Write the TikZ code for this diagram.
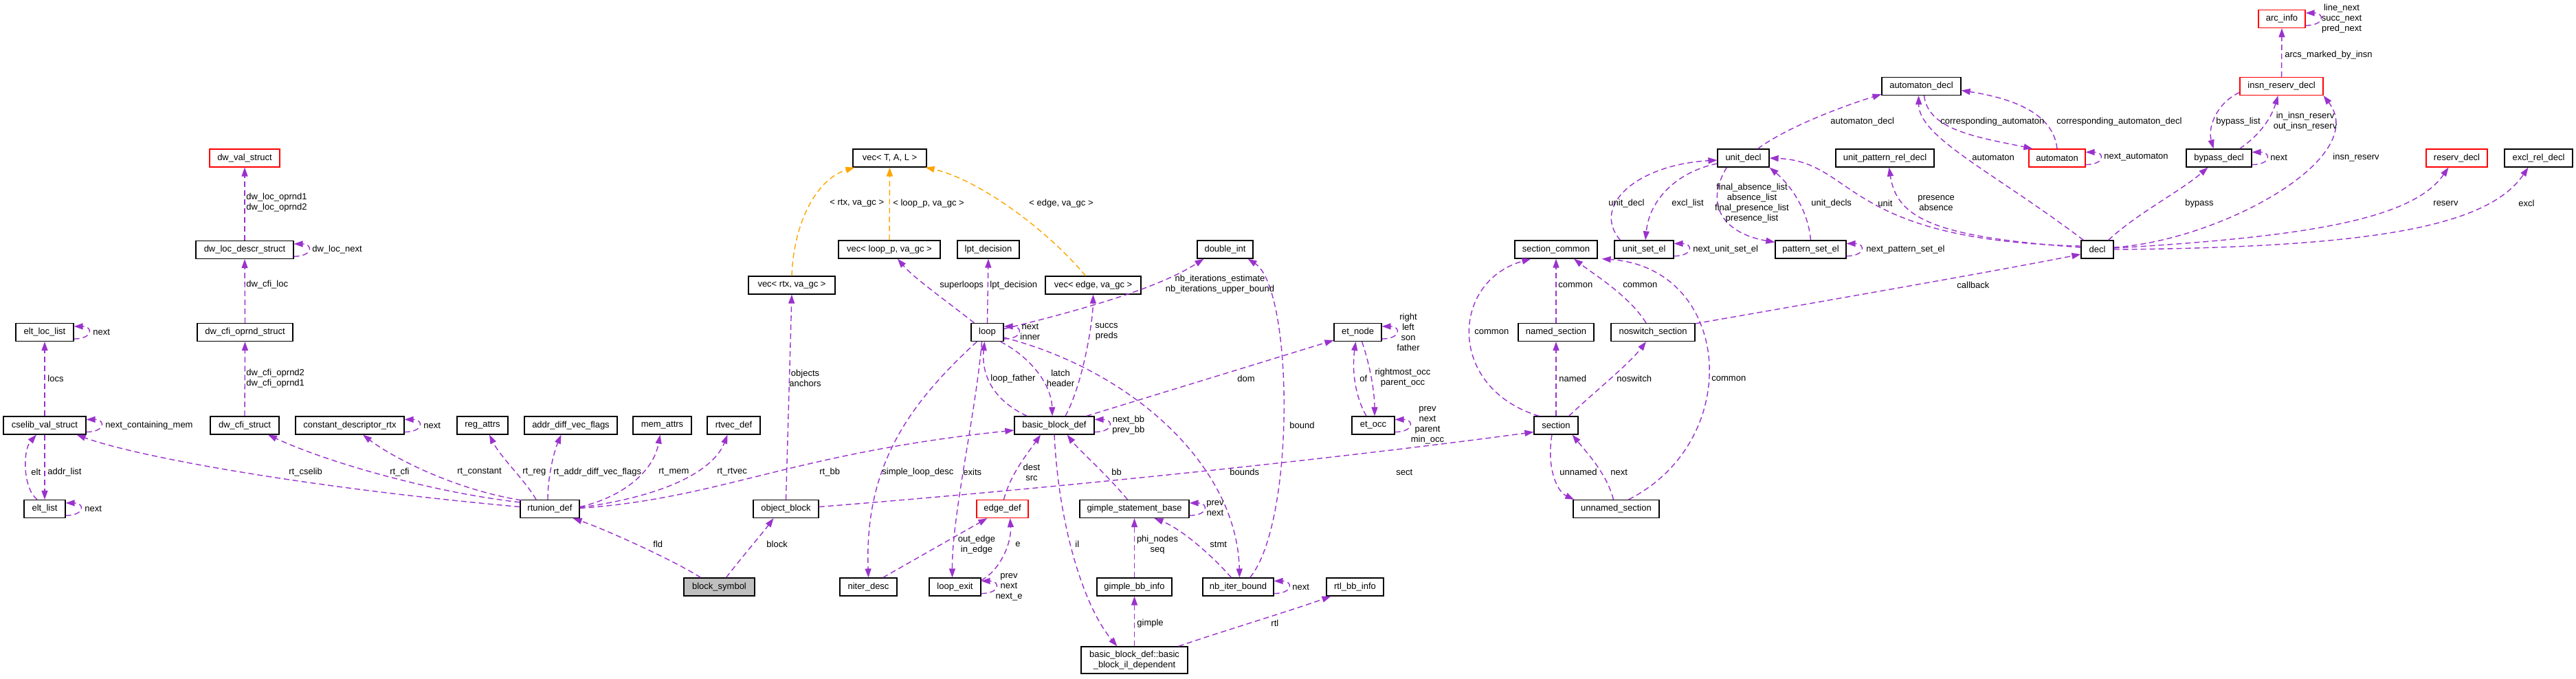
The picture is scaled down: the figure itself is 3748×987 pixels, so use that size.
\documentclass[tikz,border=0pt]{standalone}
\usepackage{fontspec}
\setmainfont{Liberation Sans}
\usetikzlibrary{arrows.meta,calc}
\definecolor{purp}{HTML}{9A32CD}
\definecolor{orng}{HTML}{FFA500}
\definecolor{greyfill}{HTML}{BFBFBF}
\newcommand{\myloop}[1]{\draw[pe] ($(#1.south east)+(0,-4)$) .. controls +(28,0) and +(28,0) .. ($(#1.north east)+(0,5)$);}
\tikzset{
 box/.style={draw=black, line width=0.6pt, fill=white, inner sep=0pt, minimum height=13pt, font=\fontsize{6.5pt}{7.5pt}\selectfont, align=center},
 redbox/.style={box, draw=red},
 pe/.style={draw=purp, line width=0.7pt, dash pattern=on 4pt off 2.5pt, -{Triangle[length=6.5pt,width=4.5pt]}},
 oe/.style={pe, draw=orng},
 lbl/.style={inner sep=0pt, font=\fontsize{6.5pt}{7.5pt}\selectfont, align=center, anchor=west},
 lblc/.style={lbl, anchor=center},
}
\begin{document}
\begin{tikzpicture}[x=0.5pt,y=-0.5pt]
\fill[white] (0,0) rectangle (3748,987);
\useasboundingbox (0,0) rectangle (3748,987);
% ---------- nodes
\node[redbox, minimum width=51pt] (dwval) at (356,230) {dw\_val\_struct};
\node[box, minimum width=71pt] (dwloc) at (356,363.5) {dw\_loc\_descr\_struct};
\node[box, minimum width=69.5pt] (cfioprnd) at (356.5,483.5) {dw\_cfi\_oprnd\_struct};
\node[box, minimum width=50pt] (cfistruct) at (356,619) {dw\_cfi\_struct};
\node[box, minimum width=42pt] (eltloc) at (65,483.5) {elt\_loc\_list};
\node[box, minimum width=60pt] (cselib) at (65,619) {cselib\_val\_struct};
\node[box, minimum width=30pt] (eltlist) at (65,740.5) {elt\_list};
\node[box, minimum width=79pt] (constdesc) at (509,619) {constant\_descriptor\_rtx};
\node[box, minimum width=37pt] (regattrs) at (702,619) {reg\_attrs};
\node[box, minimum width=67.5pt] (addrdiff) at (830.5,619) {addr\_diff\_vec\_flags};
\node[box, minimum width=42.5pt] (memattrs) at (963.5,619) {mem\_attrs};
\node[box, minimum width=38.5pt] (rtvec) at (1067.5,619) {rtvec\_def};
\node[box, minimum width=43pt] (rtunion) at (800,740.5) {rtunion\_def};
\node[box, minimum width=47.5pt] (objblock) at (1143.5,740.5) {object\_block};
\node[box, fill=greyfill, minimum width=51.5pt] (blocksym) at (1046.5,854) {block\_symbol};
\node[box, minimum width=53.5pt] (vecTAL) at (1294.5,230) {vec< T, A, L >};
\node[box, minimum width=74pt] (vecloop) at (1294,363) {vec< loop\_p, va\_gc >};
\node[box, minimum width=45pt] (lpt) at (1438,363) {lpt\_decision};
\node[box, minimum width=63pt] (vecrtx) at (1152,415) {vec< rtx, va\_gc >};
\node[box, minimum width=69.5pt] (vecedge) at (1590.5,415) {vec< edge, va\_gc >};
\node[box, minimum width=23.5pt] (lp) at (1436.5,483.5) {loop};
\node[box, minimum width=40.5pt] (dint) at (1782.5,363) {double\_int};
\node[box, minimum width=34.5pt] (etnode) at (1975.5,483.5) {et\_node};
\node[box, minimum width=58pt] (bbdef) at (1534,619) {basic\_block\_def};
\node[box, minimum width=31pt] (etocc) at (1998,619) {et\_occ};
\node[redbox, minimum width=37.5pt] (edgedef) at (1458.5,740.5) {edge\_def};
\node[box, minimum width=79.5pt] (gsb) at (1650.5,740.5) {gimple\_statement\_base};
\node[box, minimum width=41.5pt] (niter) at (1263.5,854) {niter\_desc};
\node[box, minimum width=37.5pt] (loopexit) at (1389.5,854) {loop\_exit};
\node[box, minimum width=54.5pt] (gbbinfo) at (1650.5,854) {gimple\_bb\_info};
\node[box, minimum width=51.5pt] (nbiter) at (1801.5,854) {nb\_iter\_bound};
\node[box, minimum width=41.5pt] (rtlbb) at (1971.5,854) {rtl\_bb\_info};
\node[box, minimum width=77.5pt, minimum height=19.5pt] (bbil) at (1650.5,960.5) {basic\_block\_def::basic\\\_block\_il\_dependent};
\node[box, minimum width=60pt] (seccommon) at (2264,363) {section\_common};
\node[box, minimum width=55pt] (named) at (2264,483.5) {named\_section};
\node[box, minimum width=61pt] (noswitch) at (2405,483.5) {noswitch\_section};
\node[box, minimum width=32pt] (sec) at (2264,619) {section};
\node[box, minimum width=62.5pt] (unnamed) at (2351.5,740.5) {unnamed\_section};
\node[box, minimum width=37.5pt] (unitdecl) at (2536.5,230) {unit\_decl};
\node[box, minimum width=43pt] (unitset) at (2392,363) {unit\_set\_el};
\node[box, minimum width=51.5pt] (patset) at (2634.5,363) {pattern\_set\_el};
\node[box, minimum width=71.5pt] (uprd) at (2742.5,230) {unit\_pattern\_rel\_decl};
\node[box, minimum width=57.5pt] (autdecl) at (2795.5,125.5) {automaton\_decl};
\node[redbox, minimum width=41pt] (automaton) at (2993,230) {automaton};
\node[redbox, minimum width=34pt] (arcinfo) at (3320,27.5) {arc\_info};
\node[redbox, minimum width=60.5pt] (insnres) at (3319.5,125.5) {insn\_reserv\_decl};
\node[box, minimum width=47.5pt] (bypass) at (3228.5,230) {bypass\_decl};
\node[redbox, minimum width=44.5pt] (reserv) at (3574.5,230) {reserv\_decl};
\node[box, minimum width=49.5pt] (excl) at (3693.5,230) {excl\_rel\_decl};
\node[box, minimum width=23.5pt] (decl) at (3051.5,363) {decl};
% ---------- dwarf / cselib edges
\draw[pe] (dwloc.north) -- (dwval.south);
\myloop{dwloc}
\draw[pe] (cfioprnd.north) -- (dwloc.south);
\draw[pe] (cfistruct.north) -- (cfioprnd.south);
\myloop{eltloc}
\draw[pe] (cselib.north) -- (eltloc.south);
\myloop{cselib}
\draw[pe] (cselib.south) -- (eltlist.north);
\draw[pe] ($(eltlist.north)+(-11,0)$) .. controls (33,710) and (33,655) .. ($(cselib.south)+(-12,0)$);
\myloop{eltlist}
\myloop{constdesc}
% ---------- rtunion edges
\draw[pe] ($(rtunion.west)+(0,-3)$) .. controls (450,710) and (200,665) .. ($(cselib.south east)+(-14,0)$);
\draw[pe] ($(rtunion.north west)+(0,4)$) .. controls (620,715) and (470,670) .. ($(cfistruct.south)+(34,0)$);
\draw[pe] ($(rtunion.north west)+(2,1)$) .. controls (660,712) and (570,665) .. ($(constdesc.south)+(19,0)$);
\draw[pe] ($(rtunion.north)+(-20,0)$) .. controls (765,700) and (728,665) .. ($(regattrs.south)+(10,0)$);
\draw[pe] ($(rtunion.north)+(-3,0)$) .. controls (797,695) and (805,660) .. ($(addrdiff.south)+(-14,0)$);
\draw[pe] ($(rtunion.east)+(0,-3)$) .. controls (900,725) and (950,690) .. ($(memattrs.south)+(-3,0)$);
\draw[pe] ($(rtunion.east)+(0,-2)$) .. controls (980,720) and (1040,680) .. ($(rtvec.south)+(-9,0)$);
\draw[pe] ($(rtunion.east)+(0,-1)$) .. controls (1050,725) and (1150,660) .. ($(bbdef.west)+(0,7)$);
\draw[pe] ($(blocksym.north)+(-27,0)$) .. controls (980,815) and (880,770) .. ($(rtunion.south east)+(-10,0)$);
\draw[pe] ($(blocksym.north)+(10,0)$) .. controls (1080,810) and (1110,775) .. ($(objblock.south)+(-18,0)$);
\draw[pe] (objblock.north) -- (vecrtx.south);
\draw[pe] ($(objblock.east)+(0,-3)$) .. controls (1600,705) and (2000,660) .. ($(sec.south west)+(0,-4)$);
% ---------- vec templates
\draw[oe] (vecrtx.north) .. controls (1155,320) and (1190,260) .. ($(vecTAL.south west)+(3,0)$);
\draw[oe] (vecloop.north) -- (vecTAL.south);
\draw[oe] ($(vecedge.north)+(-11,0)$) .. controls (1520,330) and (1420,260) .. ($(vecTAL.south east)+(-2,0)$);
% ---------- loop / cfg
\draw[pe] ($(lp.north west)+(5,0)$) .. controls (1380,440) and (1330,405) .. ($(vecloop.south)+(12,0)$);
\draw[pe] (lp.north) -- (lpt.south);
\myloop{lp}
\draw[pe] ($(lp.east)+(0,-5)$) .. controls (1620,440) and (1700,410) .. ($(dint.south west)+(10,0)$);
\draw[pe] ($(lp.south east)+(-5,0)$) .. controls (1500,520) and (1530,560) .. ($(bbdef.north)+(-3,0)$);
\draw[pe] ($(bbdef.north west)+(19,0)$) .. controls (1440,580) and (1428,540) .. ($(lp.south)+(-4,0)$);
\draw[pe] ($(lp.south west)+(9,0)$) .. controls (1320,590) and (1258,680) .. (niter.north);
\draw[pe] ($(lp.south)+(-8,0)$) .. controls (1420,600) and (1385,750) .. ($(loopexit.north)+(-4,0)$);
\draw[pe] ($(lp.south east)+(0,-6)$) .. controls (1650,540) and (1800,680) .. ($(nbiter.north)+(2,0)$);
\draw[pe] ($(nbiter.north east)+(-35,0)$) .. controls (1885,760) and (1882,420) .. ($(dint.south east)+(-8,0)$);
\draw[pe] ($(bbdef.north east)+(-12,0)$) -- ($(etnode.south west)+(0,-2)$);
\draw[pe] ($(bbdef.north)+(16,0)$) .. controls (1575,560) and (1590,470) .. (vecedge.south);
\myloop{bbdef}
\myloop{etnode}
\draw[pe] ($(etocc.north)+(-10,0)$) .. controls (1968,570) and (1968,530) .. ($(etnode.south)+(-3,0)$);
\draw[pe] ($(etnode.south)+(6,0)$) .. controls (1993,530) and (2000,570) .. ($(etocc.north)+(2,0)$);
\myloop{etocc}
\draw[pe] ($(edgedef.north)+(2,0)$) .. controls (1470,690) and (1495,660) .. ($(bbdef.south)+(-20,0)$);
\draw[pe] ($(gsb.north)+(-10,0)$) .. controls (1610,690) and (1570,655) .. ($(bbdef.south east)+(-40,0)$);
\draw[pe] (bbdef.south) .. controls (1540,760) and (1575,880) .. ($(bbil.north west)+(53,0)$);
\draw[pe] ($(niter.north east)+(-21,0)$) -- ($(edgedef.south west)+(16,0)$);
\draw[pe] ($(loopexit.north east)+(0,4)$) .. controls (1455,830) and (1472,790) .. ($(edgedef.south east)+(-27,0)$);
\myloop{loopexit}
\myloop{gsb}
\draw[pe] (gbbinfo.north) -- (gsb.south);
\draw[pe] ($(nbiter.north)+(-10,0)$) .. controls (1765,810) and (1720,770) .. ($(gsb.south)+(29,0)$);
\myloop{nbiter}
\draw[pe] (bbil.north) -- (gbbinfo.south);
\draw[pe] ($(bbil.north east)+(-14,0)$) .. controls (1780,918) and (1880,888) .. ($(rtlbb.south west)+(7,0)$);
% ---------- sections
\draw[pe] ($(sec.north west)+(8,0)$) .. controls (2105,565) and (2110,410) .. ($(seccommon.south west)+(24,0)$);
\draw[pe] (named.north) -- (seccommon.south);
\draw[pe] ($(noswitch.north)+(-10,0)$) .. controls (2370,430) and (2320,400) .. ($(seccommon.south)+(26,0)$);
\draw[pe] ($(unnamed.north)+(18,0)$) .. controls (2540,640) and (2520,390) .. ($(seccommon.south east)+(6,0)$);
\draw[pe] (sec.north) -- (named.south);
\draw[pe] ($(sec.north east)+(-14,0)$) .. controls (2320,570) and (2370,530) .. ($(noswitch.south)+(-10,0)$);
\draw[pe] ($(sec.south)+(-6,0)$) .. controls (2250,680) and (2265,715) .. ($(unnamed.north west)+(2,0)$);
\draw[pe] ($(unnamed.north)+(-4,0)$) .. controls (2338,690) and (2310,660) .. ($(sec.south east)+(-9,0)$);
\draw[pe] ($(noswitch.north east)+(0,1)$) .. controls (2700,430) and (2900,395) .. ($(decl.west)+(0,7)$);
% ---------- genautomata
\draw[pe] ($(unitset.north west)+(9,0)$) .. controls (2315,300) and (2380,240) .. ($(unitdecl.west)+(0,3)$);
\draw[pe] ($(unitdecl.west)+(0,8)$) .. controls (2440,250) and (2400,290) .. ($(unitset.north)+(2,0)$);
\myloop{unitset}
\draw[pe] ($(unitdecl.south west)+(14,0)$) .. controls (2478,300) and (2510,340) .. ($(patset.north west)+(0,3)$);
\draw[pe] (patset.north) .. controls (2630,300) and (2600,265) .. (unitdecl.south east);
\myloop{patset}
\draw[pe] ($(decl.west)+(0,-5)$) .. controls (2680,350) and (2700,235) .. (unitdecl.east);
\draw[pe] ($(decl.west)+(0,-3)$) .. controls (2820,345) and (2760,320) .. ($(uprd.south)+(6,0)$);
\draw[pe] ($(decl.north west)+(4,0)$) .. controls (2900,250) and (2792,200) .. ($(autdecl.south)+(-4,0)$);
\draw[pe] ($(autdecl.south)+(4,0)$) .. controls (2805,190) and (2880,200) .. ($(automaton.north west)+(6,0)$);
\draw[pe] (automaton.north) .. controls (2988,170) and (2940,145) .. ($(autdecl.east)+(0,6)$);
\draw[pe] ($(unitdecl.north)+(21,0)$) .. controls (2600,185) and (2680,155) .. ($(autdecl.south west)+(0,-2)$);
\myloop{automaton}
\draw[pe] (insnres.north) -- (arcinfo.south);
\myloop{arcinfo}
\draw[pe] ($(insnres.west)+(0,9)$) .. controls (3225,150) and (3212,185) .. ($(bypass.north)+(-8,0)$);
\draw[pe] ($(bypass.north east)+(-18,0)$) .. controls (3290,195) and (3305,170) .. ($(insnres.south)+(-5,0)$);
\myloop{bypass}
\draw[pe] ($(decl.east)+(0,-3)$) .. controls (3230,350) and (3450,230) .. (insnres.south east);
\draw[pe] ($(decl.north east)+(-8,0)$) .. controls (3110,310) and (3170,280) .. ($(bypass.south)+(-16,0)$);
\draw[pe] ($(decl.east)+(0,-2)$) .. controls (3350,345) and (3510,320) .. ($(reserv.south)+(-12,0)$);
\draw[pe] (decl.east) .. controls (3450,360) and (3620,330) .. ($(excl.south)+(-15,0)$);
% ---------- labels
\node[lbl] (l1) at (358,295) {dw\_loc\_oprnd1\\dw\_loc\_oprnd2};
\node[lbl] (l2) at (454,363) {dw\_loc\_next};
\node[lbl] (l3) at (358,414) {dw\_cfi\_loc};
\node[lbl] (l4) at (135,483) {next};
\node[lbl] (l5) at (69,551) {locs};
\node[lbl] (l6) at (358,551) {dw\_cfi\_oprnd2\\dw\_cfi\_oprnd1};
\node[lbl] (l7) at (153,619) {next\_containing\_mem};
\node[lbl] (l8) at (616,619) {next};
\node[lbl] (l9) at (45,687) {elt};
\node[lbl] (l10) at (69,687) {addr\_list};
\node[lbl] (l11) at (420,687) {rt\_cselib};
\node[lbl] (l12) at (567,687) {rt\_cfi};
\node[lbl] (l13) at (665,687) {rt\_constant};
\node[lbl] (l14) at (760,687) {rt\_reg};
\node[lbl] (l15) at (805,687) {rt\_addr\_diff\_vec\_flags};
\node[lbl] (l16) at (958,687) {rt\_mem};
\node[lbl] (l17) at (1043,687) {rt\_rtvec};
\node[lbl] (l18) at (1192,687) {rt\_bb};
\node[lbl] (l19) at (123,740) {next};
\node[lbl] (l20) at (950,792) {fld};
\node[lbl] (l21) at (1115,792) {block};
\node[lbl] (l22) at (1148,550) {objects\\anchors};
\node[lbl] (l23) at (1207,296) {< rtx, va\_gc >};
\node[lbl] (l24) at (1299,296) {< loop\_p, va\_gc >};
\node[lbl] (l25) at (1497,296) {< edge, va\_gc >};
\node[lbl] (l26) at (1367,415) {superloops};
\node[lbl] (l27) at (1440,415) {lpt\_decision};
\node[lbl] (l28) at (1484,483) {next\\inner};
\node[lblc] (l29) at (1775,414) {nb\_iterations\_estimate\\nb\_iterations\_upper\_bound};
\node[lblc] (l30) at (1543,550) {latch\\header};
\node[lbl] (l31) at (1441,551) {loop\_father};
\node[lbl] (l32) at (1283,687) {simple\_loop\_desc};
\node[lbl] (l33) at (1401,687) {exits};
\node[lbl] (l34) at (1789,687) {bounds};
\node[lbl] (l35) at (1876,619) {bound};
\node[lbl] (l36) at (1800,551) {dom};
\node[lbl] (l37) at (1593,483) {succs\\preds};
\node[lbl] (l38) at (1618,619) {next\_bb\\prev\_bb};
\node[lblc] (l39) at (2049,483) {right\\left\\son\\father};
\node[lbl] (l40) at (1978,551) {of};
\node[lblc] (l41) at (2041,550) {rightmost\_occ\\parent\_occ};
\node[lblc] (l42) at (2077,619) {prev\\next\\parent\\min\_occ};
\node[lblc] (l43) at (1501,687) {dest\\src};
\node[lbl] (l44) at (1617,687) {bb};
\node[lbl] (l45) at (1564,792) {il};
\node[lblc] (l46) at (1421,793) {out\_edge\\in\_edge};
\node[lbl] (l47) at (1477,792) {e};
\node[lblc] (l48) at (1468,854) {prev\\next\\next\_e};
\node[lblc] (l49) at (1768,740) {prev\\next};
\node[lblc] (l50) at (1684,793) {phi\_nodes\\seq};
\node[lbl] (l51) at (1760,792) {stmt};
\node[lbl] (l52) at (1880,854) {next};
\node[lbl] (l53) at (1654,907) {gimple};
\node[lbl] (l54) at (1849,907) {rtl};
\node[lbl] (l55) at (2145,483) {common};
\node[lbl] (l56) at (2267,415) {common};
\node[lbl] (l57) at (2361,415) {common};
\node[lbl] (l58) at (2490,551) {common};
\node[lbl] (l59) at (2268,551) {named};
\node[lbl] (l60) at (2352,551) {noswitch};
\node[lbl] (l61) at (2269,687) {unnamed};
\node[lbl] (l62) at (2343,687) {next};
\node[lbl] (l63) at (2031,687) {sect};
\node[lbl] (l64) at (2847,415) {callback};
\node[lbl] (l65) at (2340,296) {unit\_decl};
\node[lbl] (l66) at (2432,296) {excl\_list};
\node[lbl] (l67) at (2463,363) {next\_unit\_set\_el};
\node[lblc] (l68) at (2549,296) {final\_absence\_list\\absence\_list\\final\_presence\_list\\presence\_list};
\node[lbl] (l69) at (2635,296) {unit\_decls};
\node[lbl] (l70) at (2715,363) {next\_pattern\_set\_el};
\node[lbl] (l71) at (2732,296) {unit};
\node[lblc] (l72) at (2817,296) {presence\\absence};
\node[lbl] (l73) at (2869,229) {automaton};
\node[lbl] (l74) at (2823,177) {corresponding\_automaton};
\node[lbl] (l75) at (2992,177) {corresponding\_automaton\_decl};
\node[lbl] (l76) at (2663,177) {automaton\_decl};
\node[lbl] (l77) at (3061,229) {next\_automaton};
\node[lbl] (l78) at (3324,80) {arcs\_marked\_by\_insn};
\node[lblc] (l79) at (3407,27) {line\_next\\succ\_next\\pred\_next};
\node[lbl] (l80) at (3224,177) {bypass\_list};
\node[lblc] (l81) at (3354,177) {in\_insn\_reserv\\out\_insn\_reserv};
\node[lbl] (l82) at (3303,229) {next};
\node[lbl] (l83) at (3394,229) {insn\_reserv};
\node[lbl] (l84) at (3179,296) {bypass};
\node[lbl] (l85) at (3540,296) {reserv};
\node[lbl] (l86) at (3664,296) {excl};
\end{tikzpicture}
\end{document}
